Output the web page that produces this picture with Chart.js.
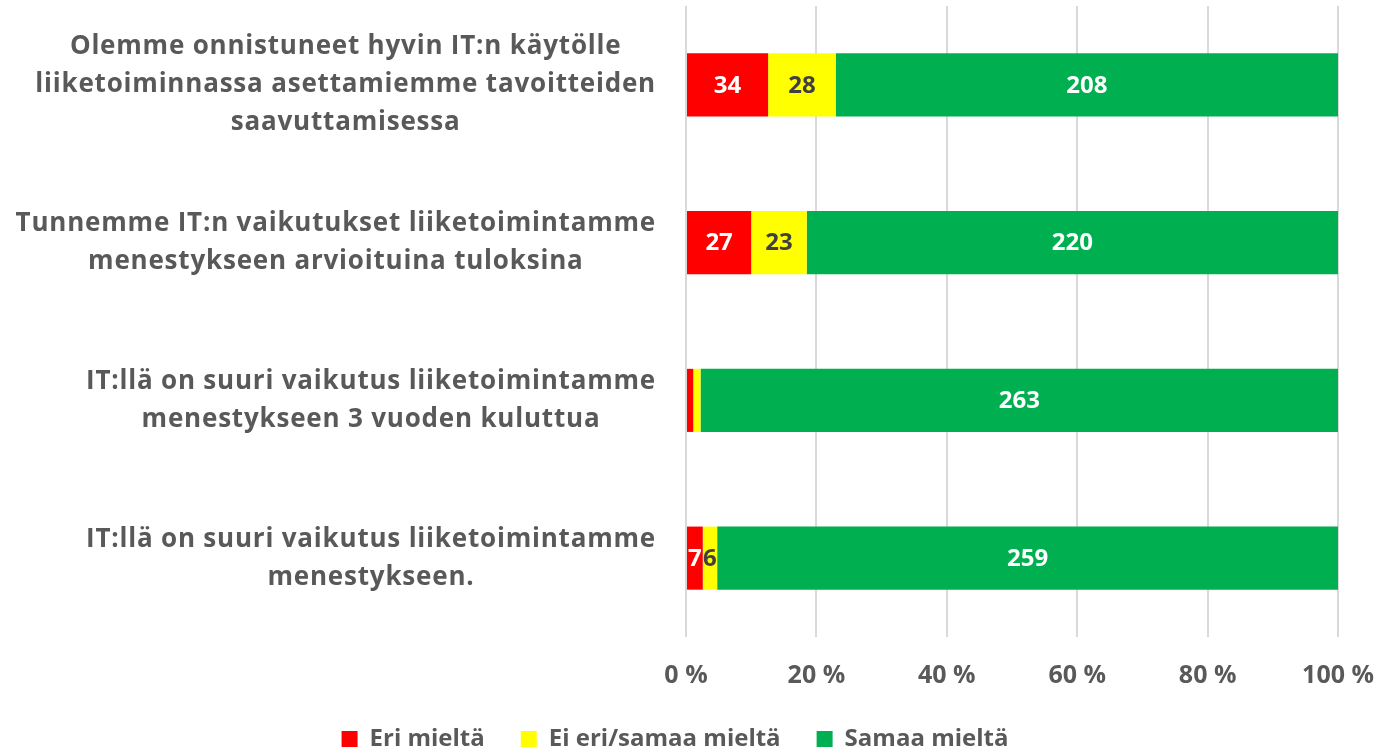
<!DOCTYPE html>
<html>
<head>
<meta charset="utf-8">
<script src="https://cdn.jsdelivr.net/npm/chart.js@4.4.1/dist/chart.umd.min.js"></script>
<style>
html,body{margin:0;padding:0;background:#fff;}
#wrap{width:1398px;height:755px;position:relative;}
</style>
</head>
<body>
<div id="wrap"><canvas id="c" width="1398" height="755"></canvas></div>
<script>
const categories = [
  ["Olemme onnistuneet hyvin IT:n käytölle", "liiketoiminnassa asettamiemme tavoitteiden", "saavuttamisessa"],
  ["Tunnemme IT:n vaikutukset liiketoimintamme", "menestykseen arvioituina tuloksina"],
  ["IT:llä on suuri vaikutus liiketoimintamme", "menestykseen 3 vuoden kuluttua"],
  ["IT:llä on suuri vaikutus liiketoimintamme", "menestykseen."]
];
const seriesNames = ["Eri mieltä", "Ei eri/samaa mieltä", "Samaa mieltä"];
const eriMielta = [34, 27, 3, 7];
const eiEriSamaa = [28, 23, 3, 6];
const samaaMielta = [208, 220, 263, 259];
const xTicks = [0, 20, 40, 60, 80, 100];

const counts = [eriMielta, eiEriSamaa, samaaMielta];
const totals = categories.map((_, i) => eriMielta[i] + eiEriSamaa[i] + samaaMielta[i]);
const pct = arr => arr.map((v, i) => v / totals[i] * 100);

const FONT = "'Open Sans', sans-serif";
const GRAY = '#595959';
const colors = ['#FF0000', '#FFFF00', '#00B050'];
const labelColors = ['#FFFFFF', '#404040', '#FFFFFF'];

const datasets = counts.map((arr, k) => ({
  label: seriesNames[k],
  data: pct(arr),
  counts: arr,
  backgroundColor: colors[k],
  borderWidth: 0,
  barPercentage: 1,
  categoryPercentage: 0.4
}));

const valueLabels = {
  id: 'valueLabels',
  afterDatasetsDraw(chart) {
    const ctx = chart.ctx;
    ctx.save();
    ctx.font = "bold 24px " + FONT;
    ctx.textAlign = 'center';
    ctx.textBaseline = 'middle';
    chart.data.datasets.forEach((ds, k) => {
      const meta = chart.getDatasetMeta(k);
      meta.data.forEach((bar, i) => {
        const v = ds.counts[i];
        if (v < 5) return;
        ctx.fillStyle = labelColors[k];
        ctx.fillText(String(v), (bar.x + bar.base) / 2, bar.y + 1);
      });
    });
    ctx.restore();
  }
};

const catLabels = {
  id: 'catLabels',
  afterDraw(chart) {
    const ctx = chart.ctx;
    const meta = chart.getDatasetMeta(0);
    const rightEdge = 656;
    const lh = 38;
    ctx.save();
    ctx.font = "bold 26px " + FONT;
    try { ctx.letterSpacing = '0.8px'; } catch (e) {}
    ctx.fillStyle = GRAY;
    ctx.textAlign = 'center';
    ctx.textBaseline = 'middle';
    categories.forEach((lines, i) => {
      const w = Math.max(...lines.map(l => ctx.measureText(l).width));
      const cx = rightEdge - w / 2;
      const cy = meta.data[i].y;
      const y0 = cy - (lines.length - 1) * lh / 2;
      lines.forEach((l, j) => ctx.fillText(l, cx, y0 + j * lh));
    });
    ctx.restore();
  }
};

new Chart(document.getElementById('c'), {
  type: 'bar',
  data: { labels: categories.map(c => c.join(' ')), datasets },
  options: {
    indexAxis: 'y',
    responsive: false,
    animation: false,
    layout: { padding: { left: 0, right: 48, top: 6, bottom: -6 } },
    scales: {
      x: {
        stacked: true,
        min: 0, max: 100,
        afterBuildTicks(scale) { scale.ticks = xTicks.map(v => ({ value: v })); },
        afterFit(scale) { scale.height = 54; },
        grid: { color: '#D9D9D9', lineWidth: 2, drawTicks: false },
        border: { display: false },
        ticks: {
          padding: 24,
          color: GRAY,
          font: { family: FONT, size: 25, weight: 'bold' },
          callback: v => v + ' %'
        }
      },
      y: {
        stacked: true,
        display: true,
        afterFit(scale) { scale.width = 686; },
        ticks: { display: false },
        grid: { display: false, drawTicks: false },
        border: { display: false }
      }
    },
    plugins: {
      legend: {
        position: 'bottom',
        labels: {
          boxWidth: 16, boxHeight: 16,
          color: GRAY,
          padding: 36,
          font: { family: FONT, size: 24, weight: 'bold' }
        }
      },
      tooltip: { enabled: false }
    }
  },
  plugins: [valueLabels, catLabels]
});
</script>
</body>
</html>
